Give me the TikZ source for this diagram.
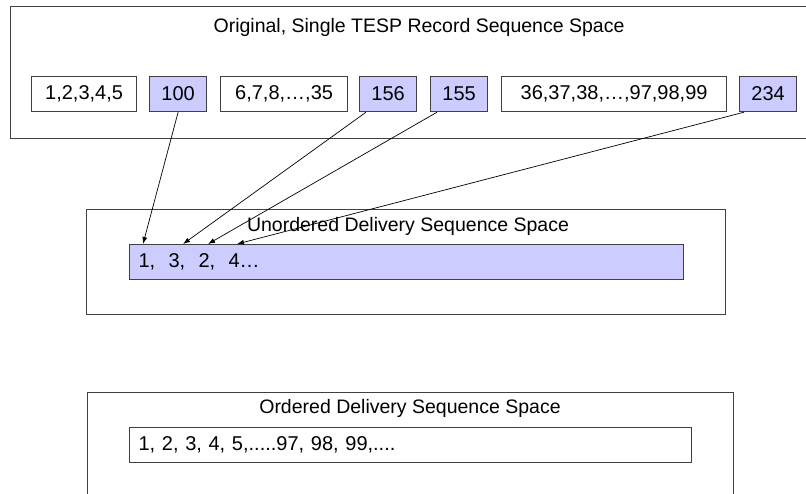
\documentclass[tikz,border=0pt]{standalone}
\usepackage{fontspec}
\setmainfont{Liberation Sans}
\usetikzlibrary{arrows.meta}
\definecolor{lav}{HTML}{CCCCFF}
\definecolor{edge}{HTML}{404040}
\begin{document}
\begin{tikzpicture}[x=1pt,y=-1pt,
  every node/.style={font=\fontsize{20}{24}\selectfont, inner sep=0pt},
  frame/.style={draw=edge, line width=1.1pt, anchor=north west},
  plain/.style={draw=edge, line width=1.2pt, fill=white, minimum height=35pt, anchor=north west},
  seq/.style={plain, fill=lav},
  heading/.style={font=\fontsize{19.5}{23}\selectfont},
  link/.style={draw=black, line width=0.7pt, -{Latex[length=7pt,width=5pt]}},
]
\path[use as bounding box] (0,0) rectangle (806,493);
\clip (0,0) rectangle (806,493);

% original record sequence space
\node[frame, minimum width=830pt, minimum height=132pt] (orig) at (9.5,6) {};
\node[heading] (origt) at (419,27) {Original, Single TESP Record Sequence Space};
\node[plain, minimum width=105pt] (r1) at (31,76) {1,2,3,4,5};
\node[seq, minimum width=57pt] (b100) at (149,76) {100};
\node[plain, minimum width=127pt] (r2) at (220,76) {6,7,8,…,35};
\node[seq, minimum width=57pt] (b156) at (359,76) {156};
\node[seq, minimum width=57pt] (b155) at (430,76) {155};
\node[plain, minimum width=225pt] (r3) at (501,76) {36,37,38,…,97,98,99};
\node[seq, minimum width=57pt] (b234) at (739,76) {234};

% unordered delivery
\node[frame, minimum width=639pt, minimum height=105pt] (unord) at (86,209) {};
\node[heading] (unordt) at (408,226) {Unordered Delivery Sequence Space};
\node[seq, text width=536pt, inner xsep=9pt, align=left] (ubar) at (129,244) {1,\ \ 3,\ \ 2,\ \ 4…};

% ordered delivery
\node[frame, minimum width=646pt, minimum height=150pt] (ord) at (87,392) {};
\node[heading] (ordt) at (410,408) {Ordered Delivery Sequence Space};
\node[plain, text width=544pt, inner xsep=9pt, align=left] (obar) at (129,427) {1, 2, 3, 4, 5,.....97, 98, 99,....};

% records moved into the unordered space
\draw[link] (b100.south) -- ([xshift=14pt]ubar.north west);
\draw[link] ([xshift=7pt]b156.south west) -- ([xshift=54pt]ubar.north west);
\draw[link] ([xshift=7pt]b155.south west) -- ([xshift=79pt]ubar.north west);
\draw[link] ([xshift=5pt]b234.south west) -- ([xshift=108pt]ubar.north west);
\end{tikzpicture}
\end{document}
